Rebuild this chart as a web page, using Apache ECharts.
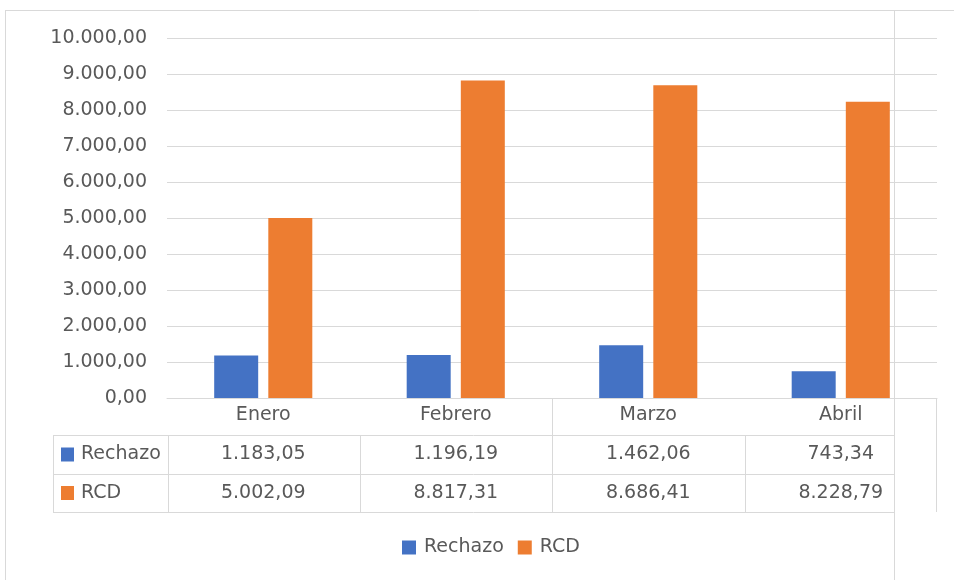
<!DOCTYPE html>
<html>
<head>
<meta charset="utf-8">
<script src="https://cdn.jsdelivr.net/npm/echarts@6/dist/echarts.min.js"></script>
<style>
  html, body { margin: 0; padding: 0; background: #fff; }
  #chart { width: 954px; height: 580px; }
</style>
</head>
<body>
<div id="chart"></div>
<script>
var meses = ['Enero', 'Febrero', 'Marzo', 'Abril'];
var rechazo = [1183.05, 1196.19, 1462.06, 743.34];
var rcd = [5002.09, 8817.31, 8686.41, 8228.79];
var serieNombres = ['Rechazo', 'RCD'];
var colores = ['#4472C4', '#ED7D31'];

var gris = '#d9d9d9';
var texto = '#595959';
var fuente = 'DejaVu Sans';
var tam = 19;

// 1234.5 -> "1.234,50"
function fmt(v) {
    var partes = Number(v).toFixed(2).split('.');
    var entero = partes[0].replace(/\B(?=(\d{3})+(?!\d))/g, '.');
    return entero + ',' + partes[1];
}

var chart = echarts.init(document.getElementById('chart'));

chart.setOption({
    animation: false,
    textStyle: { fontFamily: fuente },
    grid: { left: 167, right: 17, top: 38, bottom: 182 },
    legend: {
        data: serieNombres,
        left: 402,
        top: 538,
        padding: 0,
        icon: 'rect',
        itemWidth: 14,
        itemHeight: 14,
        itemGap: 14,
        textStyle: { color: texto, fontSize: tam, fontFamily: fuente, padding: [0, 0, 0, 3] }
    },
    xAxis: {
        type: 'category',
        data: meses,
        axisLine: { lineStyle: { color: gris, width: 1 } },
        axisTick: { show: false },
        axisLabel: { color: texto, fontSize: tam, margin: 8 }
    },
    yAxis: {
        type: 'value',
        min: 0,
        max: 10000,
        interval: 1000,
        axisLine: { show: false },
        axisTick: { show: false },
        splitLine: { lineStyle: { color: gris, width: 1 } },
        axisLabel: { color: texto, fontSize: tam, margin: 20, formatter: fmt }
    },
    series: [
        {
            name: serieNombres[0],
            type: 'bar',
            data: rechazo,
            barWidth: 44,
            barGap: '23%',
            itemStyle: { color: colores[0] }
        },
        {
            name: serieNombres[1],
            type: 'bar',
            data: rcd,
            barWidth: 44,
            itemStyle: { color: colores[1] }
        }
    ]
});

// tabla de datos debajo del eje, alineada con las categorias
function dibujarTabla() {
    var centros = meses.map(function (m, i) {
        return chart.convertToPixel({ xAxisIndex: 0 }, i);
    });
    var paso = centros[1] - centros[0];
    var izq = centros[0] - paso / 2;
    var der = centros[centros.length - 1] + paso / 2;
    var y0 = Math.round(chart.convertToPixel({ yAxisIndex: 0 }, 0));
    var filas = [y0 + 37, y0 + 76, y0 + 114];
    var tablaIzq = 53;
    var corte = 894;
    var fontTxt = tam + 'px "' + fuente + '"';
    var elems = [];

    function linea(x1, y1, x2, y2) {
        elems.push({
            type: 'line',
            silent: true,
            shape: { x1: x1, y1: y1, x2: x2, y2: y2 },
            style: { stroke: gris, lineWidth: 1 }
        });
    }

    // marco exterior
    linea(5.5, 10, 5.5, 580);
    linea(5, 10.5, 954, 10.5);
    linea(corte + 0.5, 10, corte + 0.5, 580);

    // lineas horizontales de la tabla
    filas.forEach(function (y) {
        linea(tablaIzq, y + 0.5, corte, y + 0.5);
    });
    // columnas
    linea(tablaIzq + 0.5, filas[0], tablaIzq + 0.5, filas[2]);
    linea(Math.round(izq) + 1.5, filas[0], Math.round(izq) + 1.5, filas[2]);
    for (var i = 1; i < meses.length; i++) {
        var xb = Math.round(centros[i] - paso / 2) + 0.5;
        linea(xb, i === 2 ? y0 : filas[0], xb, filas[2]);
    }
    linea(Math.round(der) - 0.5, y0, Math.round(der) - 0.5, filas[2]);

    var valores = [rechazo, rcd];
    valores.forEach(function (serie, s) {
        var yc = (filas[s] + filas[s + 1]) / 2;
        elems.push({
            type: 'rect',
            silent: true,
            shape: { x: 61, y: yc - 7, width: 13, height: 14 },
            style: { fill: colores[s] }
        });
        elems.push({
            type: 'text',
            silent: true,
            x: 81,
            y: yc,
            style: {
                text: serieNombres[s],
                fill: texto,
                font: fontTxt,
                verticalAlign: 'middle'
            }
        });
        serie.forEach(function (v, i) {
            elems.push({
                type: 'text',
                silent: true,
                x: centros[i],
                y: yc,
                style: {
                    text: fmt(v),
                    fill: texto,
                    font: fontTxt,
                    align: 'center',
                    verticalAlign: 'middle'
                }
            });
        });
    });

    chart.setOption({ graphic: elems });
}

dibujarTabla();
</script>
</body>
</html>
